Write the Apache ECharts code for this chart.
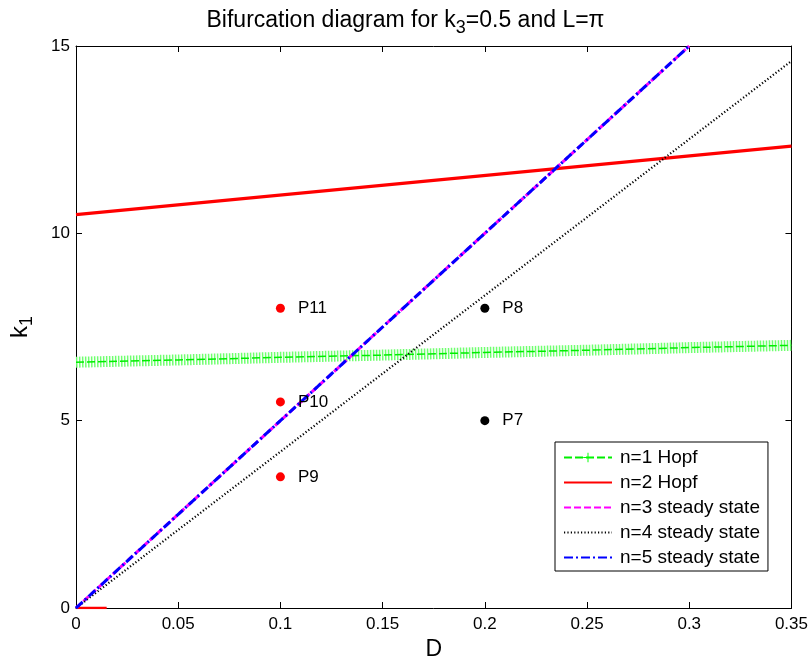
<!DOCTYPE html>
<html><head><meta charset="utf-8">
<script src="https://cdn.jsdelivr.net/npm/echarts@6/dist/echarts.min.js"></script>
<style>html,body{margin:0;padding:0;background:#fff}#c{width:811px;height:666px}</style>
</head><body><div id="c"></div>
<script>
// ---- data ----
const xTicks = [0, 0.05, 0.1, 0.15, 0.2, 0.25, 0.3, 0.35];
const yTicks = [0, 5, 10, 15];
const seriesNames = ['n=1 Hopf', 'n=2 Hopf', 'n=3 steady state', 'n=4 steady state', 'n=5 steady state'];
// n=1 Hopf
const n1D = [0, 0.05, 0.1, 0.15, 0.2, 0.25, 0.3, 0.35];
const n1K = [6.56, 6.62, 6.69, 6.75, 6.82, 6.88, 6.95, 7.01];
// n=2 Hopf (main branch and short branch along k1=0)
const n2D = [0, 0.35];
const n2K = [10.5, 12.33];
const n2bD = [0, 0.015];
const n2bK = [0, 0];
// n=3 steady state
const n3D = [0, 0.3];
const n3K = [0, 15];
// n=4 steady state
const n4D = [0, 0.35];
const n4K = [0, 14.6];
// n=5 steady state
const n5D = [0, 0.3];
const n5K = [0, 15];
// labelled points
const redNames = ['P9', 'P10', 'P11'];
const redD = [0.1, 0.1, 0.1];
const redK = [3.5, 5.5, 8];
const blackNames = ['P7', 'P8'];
const blackD = [0.2, 0.2];
const blackK = [5, 8];

const zip = (xs, ys) => xs.map((x, i) => [x, ys[i]]);
const FONT = 'Liberation Sans, Arial, sans-serif';

const chart = echarts.init(document.getElementById('c'), null, {renderer: 'canvas'});
const axisCommon = {
  type: 'value', min: 0,
  axisLine: {show: true, onZero: false, lineStyle: {color: '#000', width: 1}},
  axisTick: {show: true, inside: true, length: 6, lineStyle: {color: '#000'}},
  splitLine: {show: false},
};
const ptLabel = {show: true, position: 'right', distance: 13, formatter: p => p.name,
  color: '#000', fontSize: 17, fontFamily: FONT};

chart.setOption({
  animation: false,
  backgroundColor: '#fff',
  title: {
    text: 'Bifurcation diagram for k{s|3}=0.5 and L=π',
    left: 'center', top: 0,
    textStyle: {fontSize: 23, fontWeight: 'normal', color: '#000', fontFamily: FONT,
      rich: {s: {fontSize: 18, fontFamily: FONT, color: '#000', padding: [14, 0, 0, 0]}}}
  },
  grid: {left: 76, right: 18, top: 46, bottom: 55, containLabel: false},
  xAxis: [
    Object.assign({}, axisCommon, {max: 0.35, interval: 0.05, position: 'bottom',
      name: 'D', nameLocation: 'middle', nameGap: 30,
      nameTextStyle: {fontSize: 23, color: '#000', fontFamily: FONT},
      axisLabel: {color: '#000', fontSize: 17, fontFamily: FONT, margin: 8,
        formatter: v => { const t = xTicks.find(a => Math.abs(a - v) < 1e-9); return t === undefined ? '' : String(t); }}}),
    Object.assign({}, axisCommon, {max: 0.35, interval: 0.05, position: 'top', axisLabel: {show: false}})
  ],
  yAxis: [
    Object.assign({}, axisCommon, {max: 15, interval: 5, position: 'left',
      name: 'k{s|1}', nameLocation: 'middle', nameGap: 40, nameRotate: 90,
      nameTextStyle: {fontSize: 24, color: '#000', fontFamily: FONT,
        rich: {s: {fontSize: 18, color: '#000', fontFamily: FONT, padding: [14, 0, 0, 0]}}},
      axisLabel: {color: '#000', fontSize: 17, fontFamily: FONT, margin: 6,
        formatter: v => { const t = yTicks.find(a => Math.abs(a - v) < 1e-9); return t === undefined ? '' : String(t); }}}),
    Object.assign({}, axisCommon, {max: 15, interval: 5, position: 'right', axisLabel: {show: false}})
  ],
  legend: {
    data: seriesNames.map((n, i) => i === 0 ? {name: n} : {name: n, itemStyle: {opacity: 0}}),
    orient: 'vertical', left: 555, top: 442,
    itemWidth: 48, itemHeight: 12, itemGap: 6,
    padding: [6, 8, 4, 8],
    borderColor: '#000', borderWidth: 1, backgroundColor: '#fff',
    textStyle: {fontSize: 19, color: '#000', fontFamily: FONT, padding: [0, 0, 0, 3]},
    selectedMode: false
  },
  series: [
    { // dense '+' markers of n=1 Hopf drawn as a striped band
      type: 'line', name: 'n1markers', data: zip(n1D, n1K), symbol: 'none', silent: true,
      lineStyle: {color: '#70ff70', width: 11, type: [1.5, 1.5], cap: 'butt'}, z: 1
    },
    {
      type: 'line', name: seriesNames[0], data: zip(n1D, n1K),
      symbol: 'path://M4.5,0h1v4.5h4.5v1h-4.5v4.5h-1v-4.5h-4.5v-1h4.5z', symbolSize: 11, showSymbol: false,
      itemStyle: {color: '#00ff00'},
      lineStyle: {color: '#00ee00', width: 1.5, type: [8, 3]}, z: 2
    },
    {
      type: 'line', name: seriesNames[1], data: zip(n2D, n2K), symbol: 'none',
      itemStyle: {color: '#ff0000'}, lineStyle: {color: '#ff0000', width: 3.2}, z: 3
    },
    {
      type: 'line', name: 'n2branch', data: zip(n2bD, n2bK), symbol: 'none',
      lineStyle: {color: '#ff0000', width: 2.5}, z: 3
    },
    {
      type: 'line', name: seriesNames[2], data: zip(n3D, n3K), symbol: 'none',
      itemStyle: {color: '#ff00ff'}, lineStyle: {color: '#ff00ff', width: 3, type: [7, 3]}, z: 4
    },
    {
      type: 'line', name: seriesNames[3], data: zip(n4D, n4K), symbol: 'none',
      itemStyle: {color: '#000'}, lineStyle: {color: '#000', width: 2.2, type: [1.2, 2.2]}, z: 5
    },
    {
      type: 'line', name: seriesNames[4], data: zip(n5D, n5K), symbol: 'none',
      itemStyle: {color: '#0000ff'}, lineStyle: {color: '#0000ff', width: 3, type: [9, 3, 2, 3]}, z: 6
    },
    {
      type: 'scatter', name: 'red points', symbolSize: 9, itemStyle: {color: '#ff0000', opacity: 1},
      data: redNames.map((n, i) => ({name: n, value: [redD[i], redK[i]]})), label: ptLabel, z: 7
    },
    {
      type: 'scatter', name: 'black points', symbolSize: 9, itemStyle: {color: '#000', opacity: 1},
      data: blackNames.map((n, i) => ({name: n, value: [blackD[i], blackK[i]]})), label: ptLabel, z: 7
    }
  ]
});
</script></body></html>
